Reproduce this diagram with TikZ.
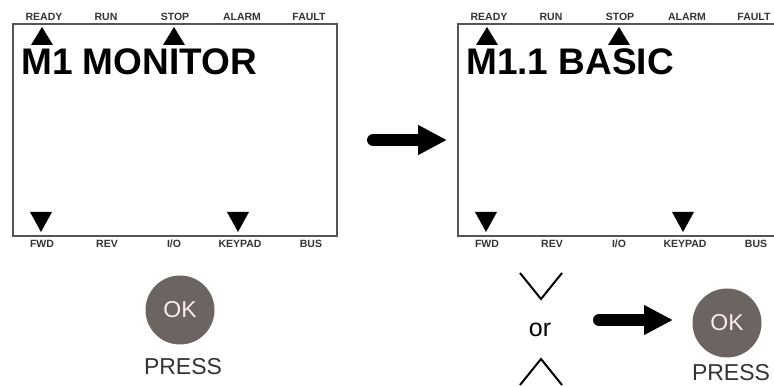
\documentclass[tikz,border=0pt]{standalone}
\usepackage{fontspec}
\setmainfont{Liberation Sans}
\usetikzlibrary{arrows.meta, positioning}

\definecolor{frame}{HTML}{555555}
\definecolor{okgray}{HTML}{6B6461}
\definecolor{labelgray}{HTML}{333333}

\begin{document}
\begin{tikzpicture}[x=1pt, y=-1pt, >=Stealth,
    panel/.style={draw=frame, line width=2pt},
    ledlabel/.style={text=labelgray, font=\bfseries\fontsize{10.5}{11}\selectfont, inner sep=0pt},
    heading/.style={font=\bfseries\fontsize{37}{39}\selectfont, inner sep=0pt, anchor=base west},
    okbutton/.style={circle, fill=okgray, text=white!92!red, minimum size=69pt, inner sep=0pt, font=\fontsize{23}{24}\selectfont},
    presslabel/.style={text=labelgray, font=\fontsize{23}{24}\selectfont, inner sep=0pt},
    bigarrow/.style={line width=12pt, line cap=round, -{Triangle[length=29pt, width=28pt]}},
    chevron/.style={line width=2pt}]
    \useasboundingbox (0,0) rectangle (774,387);
    \clip (0,0) rectangle (774,387);

    % two keypad displays
    \foreach \p/\dx/\ttl in {A/0/M1 MONITOR, B/445/M1.1 BASIC} {
      \begin{scope}[xshift=\dx pt]
        \draw[panel] (12.5,24.5) rectangle (337,236);
        \node[ledlabel] (ready\p) at (44,17) {READY};
        \node[ledlabel] (run\p) at (106,17) {RUN};
        \node[ledlabel] (stop\p) at (175,17) {STOP};
        \node[ledlabel] (alarm\p) at (242,17) {ALARM};
        \node[ledlabel] (fault\p) at (309,17) {FAULT};
        \node[ledlabel] (fwd\p) at (42,244) {FWD};
        \node[ledlabel] (rev\p) at (107,244) {REV};
        \node[ledlabel] (io\p) at (174,244) {I/O};
        \node[ledlabel] (keypad\p) at (240,244) {KEYPAD};
        \node[ledlabel] (bus\p) at (311,244) {BUS};
        \node[heading] (title\p) at (21,75) {\ttl};
        \fill (31,45) -- (42,27) -- (53,45) -- cycle;
        \fill (163,45) -- (174,27) -- (185,45) -- cycle;
        \fill (30,212) -- (41,232) -- (52,212) -- cycle;
        \fill (227,212) -- (238,232) -- (249,212) -- cycle;
      \end{scope}
    }

    \coordinate (gapA) at (373,140);
    \coordinate (gapB) at (447,140);
    \draw[bigarrow] (gapA) -- (gapB);

    % left: press OK
    \node[okbutton] (okA) at (180,310) {OK};
    \node[presslabel] (pressA) at (183,367) {PRESS};

    % right: browse, then OK
    \node[font=\fontsize{25}{26}\selectfont, inner sep=0pt] (orlabel) at (540,330) {or};
    \draw[chevron] (520,273) -- (541,299) -- (562,273);
    \draw[chevron] (520,385) -- (541,359) -- (562,385);
    \node[okbutton] (okB) at (727,323) {OK};
    \node[presslabel] (pressB) at (731,373) {PRESS};
    \coordinate (browseEnd) at (599,320);
    \coordinate (okIn) at (673,320);
    \draw[bigarrow] (browseEnd) -- (okIn);
\end{tikzpicture}
\end{document}
